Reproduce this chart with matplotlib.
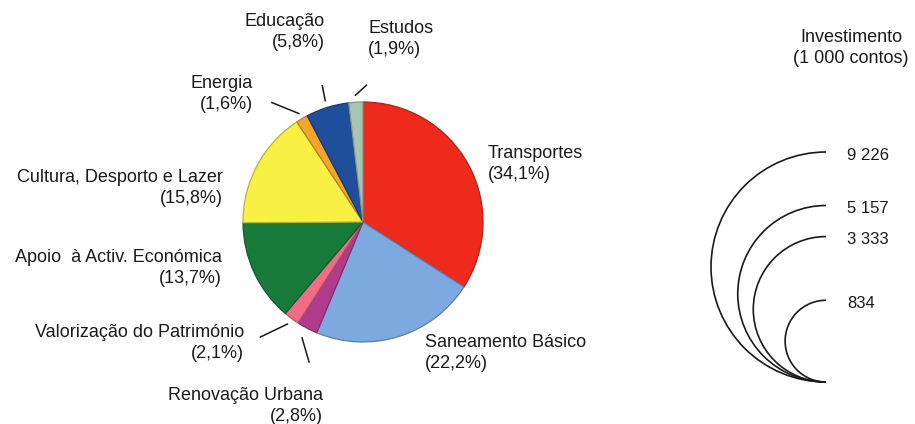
import sys
import numpy as np
import matplotlib
matplotlib.use('Agg')
import matplotlib.pyplot as plt
import matplotlib.colors as mcolors
from matplotlib.patches import Arc

# investment share per sector (%), clockwise from the top
sectors = ['Transportes', 'Saneamento Básico', 'Renovação Urbana',
           'Valorização do Património', 'Apoio  à Activ. Económica',
           'Cultura, Desporto e Lazer', 'Energia', 'Educação', 'Estudos']
shares = [34.1, 22.2, 2.8, 2.1, 13.7, 15.8, 1.6, 5.8, 1.9]
sector_colors = ['#ee2a1c', '#7ba9e0', '#b03a8c', '#f26c88', '#17793a',
                 '#f8f042', '#f5a62a', '#1f4e9b', '#a9c5b2']

# total investment circles (1 000 contos)
invest = [9226, 5157, 3333, 834]
invest_title = 'Investimento\n(1 000 contos)'

W, H = 915, 424
pie_c = (363, H - 222)
pie_r = 120

# label layout: (x, y in image px, ha)
label_pos = {
    'Transportes': (488, 164, 'left'),
    'Saneamento Básico': (425, 353, 'left'),
    'Renovação Urbana': (323, 406, 'right'),
    'Valorização do Património': (244, 343, 'right'),
    'Apoio  à Activ. Económica': (222, 268, 'right'),
    'Cultura, Desporto e Lazer': (223, 188, 'right'),
    'Energia': (253, 94, 'right'),
    'Educação': (325, 32, 'right'),
    'Estudos': (368, 39, 'left'),
}
# leader lines for the thin slices: (radius of inner end, dx, dy) in px
leaders = {
    'Renovação Urbana': (131, 7, -24),
    'Valorização do Património': (127, -27, -13),
    'Energia': (126, -27, 11),
    'Educação': (127, -3, 15),
    'Estudos': (127, 11, 10),
}
font = 'Liberation Sans'
ink = '#1a1a1a'


def darker(c, f=0.75):
    return tuple(np.array(mcolors.to_rgb(c)) * f)


def draw_pie(ax):
    wedges, _ = ax.pie(shares, colors=sector_colors, startangle=90,
                       counterclock=False, center=pie_c, radius=pie_r,
                       wedgeprops=dict(linewidth=0.9))
    for w, c in zip(wedges, sector_colors):
        w.set_edgecolor(darker(c))

    for name, share, w in zip(sectors, shares, wedges):
        x, y, ha = label_pos[name]
        txt = '{}\n({}%)'.format(name, ('%.1f' % share).replace('.', ','))
        ax.text(x, H - y, txt, ha=ha, va='center', fontsize=13,
                family=font, color=ink, linespacing=1.25,
                multialignment=ha)
        if name in leaders:
            r, dx, dy = leaders[name]
            mid = np.deg2rad((w.theta1 + w.theta2) / 2)
            x0 = pie_c[0] + r * np.cos(mid)
            y0 = pie_c[1] + r * np.sin(mid)
            ax.plot([x0, x0 + dx], [y0, y0 + dy], color=ink, lw=1.1)


def draw_circles(ax):
    # half circles sharing their bottom point, radius grows with sqrt(value)
    x_end, y_base = 826, H - 382
    r0 = 9
    k = (115 - r0) / np.sqrt(max(invest))
    for v in invest:
        r = r0 + k * np.sqrt(v)
        cy = y_base + r
        ax.add_patch(Arc((x_end, cy), 2 * r, 2 * r, theta1=90, theta2=270,
                         color=ink, lw=1.2))
        ax.text(x_end + 21, cy + r - 3, '{:,}'.format(v).replace(',', ' '),
                ha='left', va='center', fontsize=12, family=font, color=ink)
    ax.text(851, H - 48, invest_title, ha='center', va='center',
            fontsize=13, family=font, color=ink, linespacing=1.25)


def main():
    fig = plt.figure(figsize=(W / 100, H / 100), dpi=100)
    ax = fig.add_axes([0, 0, 1, 1])
    draw_pie(ax)
    draw_circles(ax)
    ax.set_xlim(0, W)
    ax.set_ylim(0, H)
    ax.set_aspect('equal')
    ax.axis('off')
    plt.savefig('out.png', dpi=100, facecolor='white')


if __name__ == '__main__':
    sys.exit(main())
